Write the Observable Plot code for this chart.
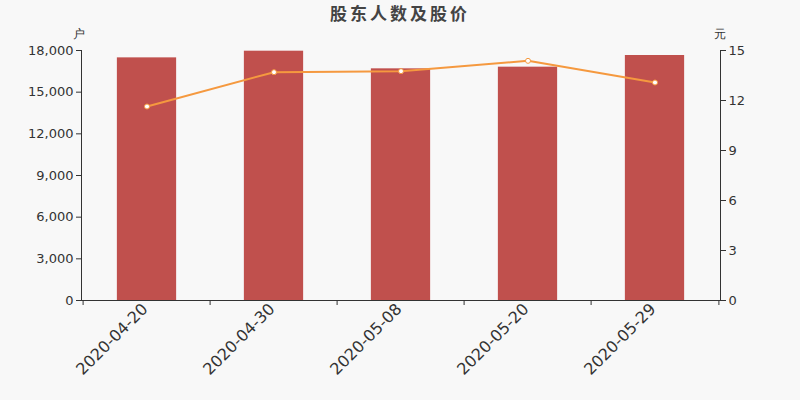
<!DOCTYPE html>
<html><head><meta charset="utf-8">
<script src="https://cdn.jsdelivr.net/npm/d3@7"></script>
<script src="https://cdn.jsdelivr.net/npm/@observablehq/plot@0.6"></script>
<style>
body{margin:0;background:#f8f8f8;font-family:"DejaVu Sans","Noto Sans CJK SC",sans-serif;}
#title{height:24px;line-height:25px;text-align:center;font-size:17px;font-weight:bold;color:#444;letter-spacing:3px;font-family:"Noto Sans CJK SC",sans-serif;}
</style></head>
<body>
<div id="title">股东人数及股价</div>
<div id="chart"></div>
<script>
const dates = ["2020-04-20","2020-04-30","2020-05-08","2020-05-20","2020-05-29"];
const holders = [17470, 17950, 16680, 16800, 17640];
const prices = [11.64, 13.70, 13.76, 14.38, 13.08];
const leftTicks = [0, 3000, 6000, 9000, 12000, 15000, 18000];
const rightTicks = [0, 3, 6, 9, 12, 15];
const leftMax = 18000, rightMax = 15;
const ratio = leftMax / rightMax;

const W = 800, H = 376, ML = 81, MR = 80, MT = 26, MB = 100;
const bw = (W - ML - MR) / dates.length;
const inset = bw * 0.265;

const rows = dates.map((d, i) => ({date: d, holders: holders[i], price: prices[i], p: prices[i] * ratio}));
const axisColor = "#333";

const chart = Plot.plot({
  width: W, height: H,
  marginLeft: ML, marginRight: MR, marginTop: MT, marginBottom: MB,
  style: {background: "#f8f8f8", fontSize: "13px", fontFamily: "DejaVu Sans, sans-serif", color: "#333"},
  x: {domain: dates, padding: 0},
  y: {domain: [0, leftMax]},
  marks: [
    Plot.barY(rows, {x: "date", y: "holders", fill: "#c0504d", insetLeft: inset, insetRight: inset}),
    Plot.axisY({anchor: "left", ticks: leftTicks, tickFormat: d3.format(","), tickSize: 5, tickPadding: 3, label: null, fontSize: 13}),
    Plot.axisY({anchor: "right", ticks: rightTicks.map(v => v * ratio), tickFormat: d => String(d / ratio), tickSize: 5, tickPadding: 3, label: null, fontSize: 13}),
    Plot.axisX({tickSize: 0, tickRotate: -45, tickPadding: 6, dx: -2, fontSize: 16, label: null}),
    Plot.frame({anchor: "left", stroke: axisColor}),
    Plot.frame({anchor: "right", stroke: axisColor}),
    Plot.ruleY([0], {stroke: axisColor}),
    Plot.ruleX(dates, {x: d => d, y1: 0, y2: -360, dx: -bw / 2, stroke: axisColor}),
    Plot.ruleX([dates[dates.length - 1]], {x: d => d, y1: 0, y2: -360, dx: bw / 2, stroke: axisColor}),
    Plot.line(rows, {x: "date", y: "p", stroke: "#f5993f", strokeWidth: 2}),
    Plot.dot(rows, {x: "date", y: "p", r: 2.5, fill: "#fff", stroke: "#f5993f", strokeWidth: 1}),
    Plot.text(["户"], {frameAnchor: "top-left", dx: -3, dy: -21, text: d => d, fontSize: 12, fill: "#333", textAnchor: "middle"}),
    Plot.text(["元"], {frameAnchor: "top-right", dx: -1, dy: -21, text: d => d, fontSize: 12, fill: "#333", textAnchor: "middle"})
  ]
});
document.getElementById("chart").appendChild(chart);
</script>
</body></html>
